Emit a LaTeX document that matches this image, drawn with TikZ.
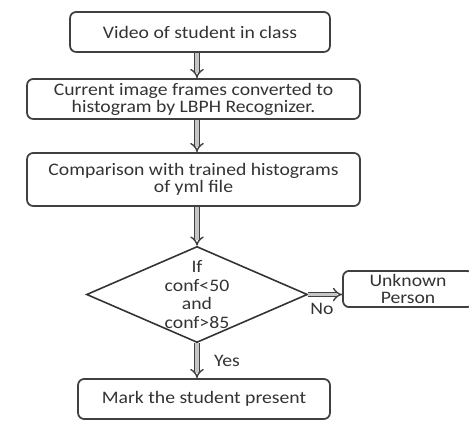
\documentclass[tikz,border=0pt]{standalone}
\usepackage{fontspec}
\setmainfont{Carlito}[FakeStretch=1.12]
\usepackage{tikz}
\usetikzlibrary{shapes,arrows.meta,positioning,calc}

\begin{document}
\begin{tikzpicture}[x=0.02cm,y=-0.02cm,
  box/.style={rectangle,rounded corners=3.5pt,draw=black!75,line width=1pt,align=center,
    text=black!80,font=\fontsize{10}{9.6}\selectfont,inner sep=2pt},
  dec/.style={diamond,draw=black!80,line width=0.9pt,align=center,text=black!80,
    font=\fontsize{10}{10.6}\selectfont,minimum width=4.36cm,minimum height=1.9cm,inner sep=0pt,aspect=2.3},
  flow/.style={draw=black!75,line width=0.8pt,double=gray!45,double distance=1.8pt,-{Implies}},
  lbl/.style={font=\fontsize{10}{10}\selectfont,text=black!80}
]
  \clip (0,0) rectangle (469,421);
  \node[box,minimum width=5.2cm,minimum height=0.8cm] (video) at (200,32) {Video of student in class};
  \node[box,minimum width=6.66cm,minimum height=0.8cm] (hist) at (193.5,99) {Current image frames converted to\\histogram by LBPH Recognizer.};
  \node[box,minimum width=6.66cm,minimum height=1.06cm] (comp) at (193.5,179.5) {Comparison with trained histograms\\of yml file};
  \node[dec] (cond) at (197,294.5) {If\\conf\textless50\\and\\conf\textgreater85};
  \node[box,minimum width=2.6cm,minimum height=0.68cm] (unk) at (408,289) {Unknown\\Person};
  \node[box,minimum width=5.04cm,minimum height=0.8cm] (mark) at (204,399) {Mark the student present};
  \draw[flow] (video.south -| cond) -- (hist.north -| cond);
  \draw[flow] (hist.south -| cond) -- (comp.north -| cond);
  \draw[flow] (comp.south -| cond) -- (cond.north);
  \draw[flow] (cond.east) -- (cond.east -| unk.west) node[lbl,pos=0.4,below=1pt] {No};
  \draw[flow] (cond.south) -- (mark.north -| cond) node[lbl,midway,right=6pt] {Yes};
\end{tikzpicture}
\end{document}
